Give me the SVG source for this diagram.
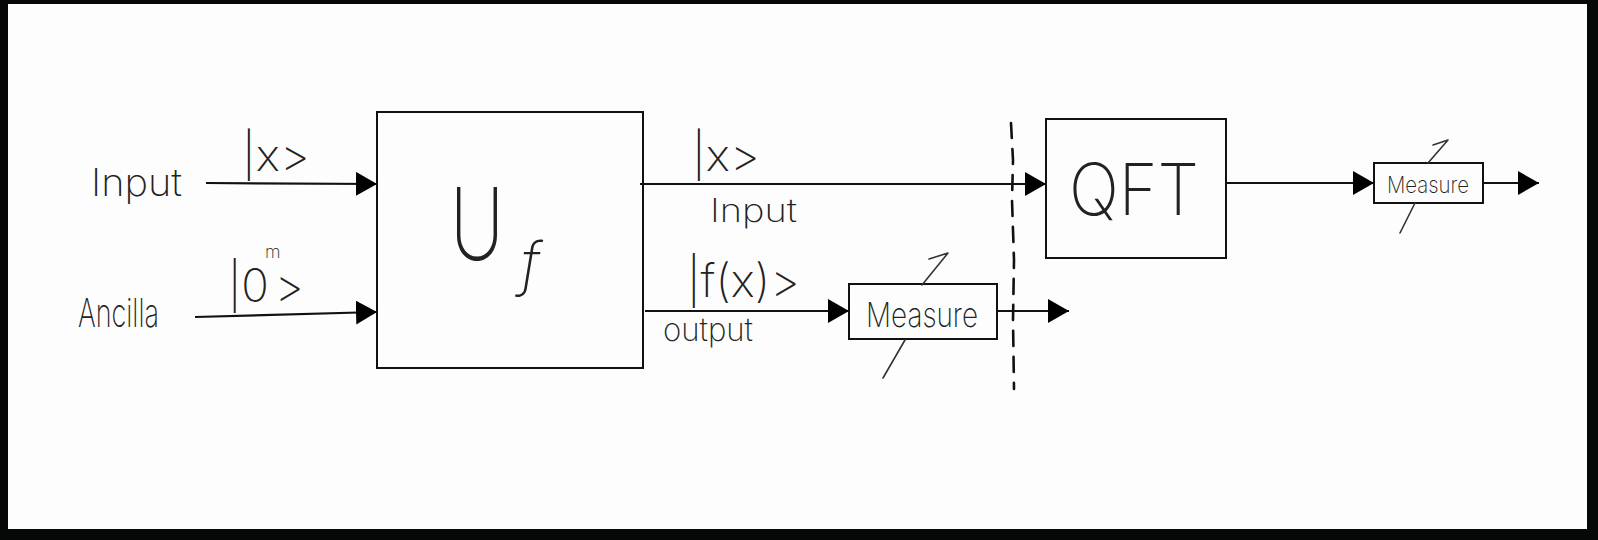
<svg xmlns="http://www.w3.org/2000/svg" width="1598" height="540" viewBox="0 0 1598 540">
  <style>
    .box { fill: none; stroke: #111; stroke-width: 2; }
    .wire { fill: none; stroke: #111; stroke-width: 2.2; }
    .pen { fill: none; stroke: #333; stroke-width: 1.6; stroke-linecap: round; stroke-linejoin: round; }
    .hand { font-family: "Inter", "Lato", "Roboto", "DejaVu Sans", sans-serif; font-weight: 200; fill: #222; }
    .dash { fill: none; stroke: #111; stroke-width: 2.6; stroke-dasharray: 15 11; stroke-linecap: round; }
  </style>
  <defs>
    <marker id="tri" markerUnits="userSpaceOnUse" markerWidth="22" markerHeight="24" refX="21" refY="12" orient="auto" viewBox="0 0 22 24">
      <path d="M0,0 L21,12 L0,24 Z" fill="#000"/>
    </marker>
  </defs>

  <!-- page frame -->
  <rect x="0" y="0" width="1598" height="540" fill="#060807"/>
  <rect x="8" y="4" width="1579" height="525" fill="#fdfdfd"/>

  <!-- side labels -->
  <g id="label-input">
    <text class="hand" x="91" y="196" font-size="38" textLength="91" lengthAdjust="spacingAndGlyphs">Input</text>
  </g>
  <g id="label-ancilla">
    <text class="hand" x="78" y="327" font-size="40" textLength="81" lengthAdjust="spacingAndGlyphs">Ancilla</text>
  </g>

  <!-- oracle block -->
  <g id="node-uf">
    <rect class="box" x="377" y="112" width="266" height="256"/>
    <text class="hand" x="450" y="260" font-size="100" textLength="54" lengthAdjust="spacingAndGlyphs">U</text>
    <text class="hand" x="521" y="284" font-size="58" font-style="italic">f</text>
  </g>

  <!-- first measurement -->
  <g id="node-measure-1">
    <rect class="box" x="849" y="284" width="148" height="55"/>
    <text class="hand" x="866" y="327" font-size="34" textLength="112" lengthAdjust="spacingAndGlyphs">Measure</text>
    <path class="pen" d="M922 285 L948 253 L929 259"/>
    <path class="pen" d="M905 340 L883 378"/>
  </g>

  <!-- Fourier transform block -->
  <g id="node-qft">
    <rect class="box" x="1046" y="119" width="180" height="139"/>
    <text class="hand" x="1069" y="215" font-size="72" textLength="130" lengthAdjust="spacingAndGlyphs">QFT</text>
  </g>

  <!-- second measurement -->
  <g id="node-measure-2">
    <rect class="box" x="1374" y="163" width="109" height="40"/>
    <text class="hand" x="1387" y="193" font-size="23" textLength="82" lengthAdjust="spacingAndGlyphs">Measure</text>
    <path class="pen" d="M1428 163 L1448 140 L1433 145"/>
    <path class="pen" d="M1415 203 L1400 233"/>
  </g>

  <!-- barrier -->
  <g id="barrier">
    <path class="dash" d="M1011 123 L1013 160 L1012 200 L1014 260 L1013 320 L1014 389"/>
  </g>

  <!-- wires -->
  <g id="connectors">
    <line class="wire" x1="206" y1="183" x2="377" y2="184" marker-end="url(#tri)"/>
    <line class="wire" x1="195" y1="317" x2="377" y2="312" marker-end="url(#tri)"/>
    <line class="wire" x1="640" y1="184" x2="1046" y2="184" marker-end="url(#tri)"/>
    <line class="wire" x1="645" y1="311" x2="849" y2="311" marker-end="url(#tri)"/>
    <line class="wire" x1="997" y1="311" x2="1069" y2="311" marker-end="url(#tri)"/>
    <line class="wire" x1="1226" y1="183" x2="1374" y2="183" marker-end="url(#tri)"/>
    <line class="wire" x1="1483" y1="183" x2="1539" y2="183" marker-end="url(#tri)"/>
  </g>

  <!-- wire labels -->
  <g id="wire-labels">
    <text class="hand" x="242" y="171" font-size="44" textLength="68" lengthAdjust="spacingAndGlyphs">|x&gt;</text>
    <text class="hand" x="228" y="302" font-size="46" textLength="76" lengthAdjust="spacingAndGlyphs">|0<tspan dx="-4" dy="-44" font-size="18">m</tspan><tspan dx="-6" dy="44">&gt;</tspan></text>
    <text class="hand" x="692" y="171" font-size="44" textLength="68" lengthAdjust="spacingAndGlyphs">|x&gt;</text>
    <text class="hand" x="710" y="222" font-size="32" textLength="87" lengthAdjust="spacingAndGlyphs">Input</text>
    <text class="hand" x="687" y="297" font-size="46" textLength="113" lengthAdjust="spacingAndGlyphs">|f(x)&gt;</text>
    <text class="hand" x="663" y="341" font-size="32" textLength="90" lengthAdjust="spacingAndGlyphs">output</text>
  </g>
</svg>
